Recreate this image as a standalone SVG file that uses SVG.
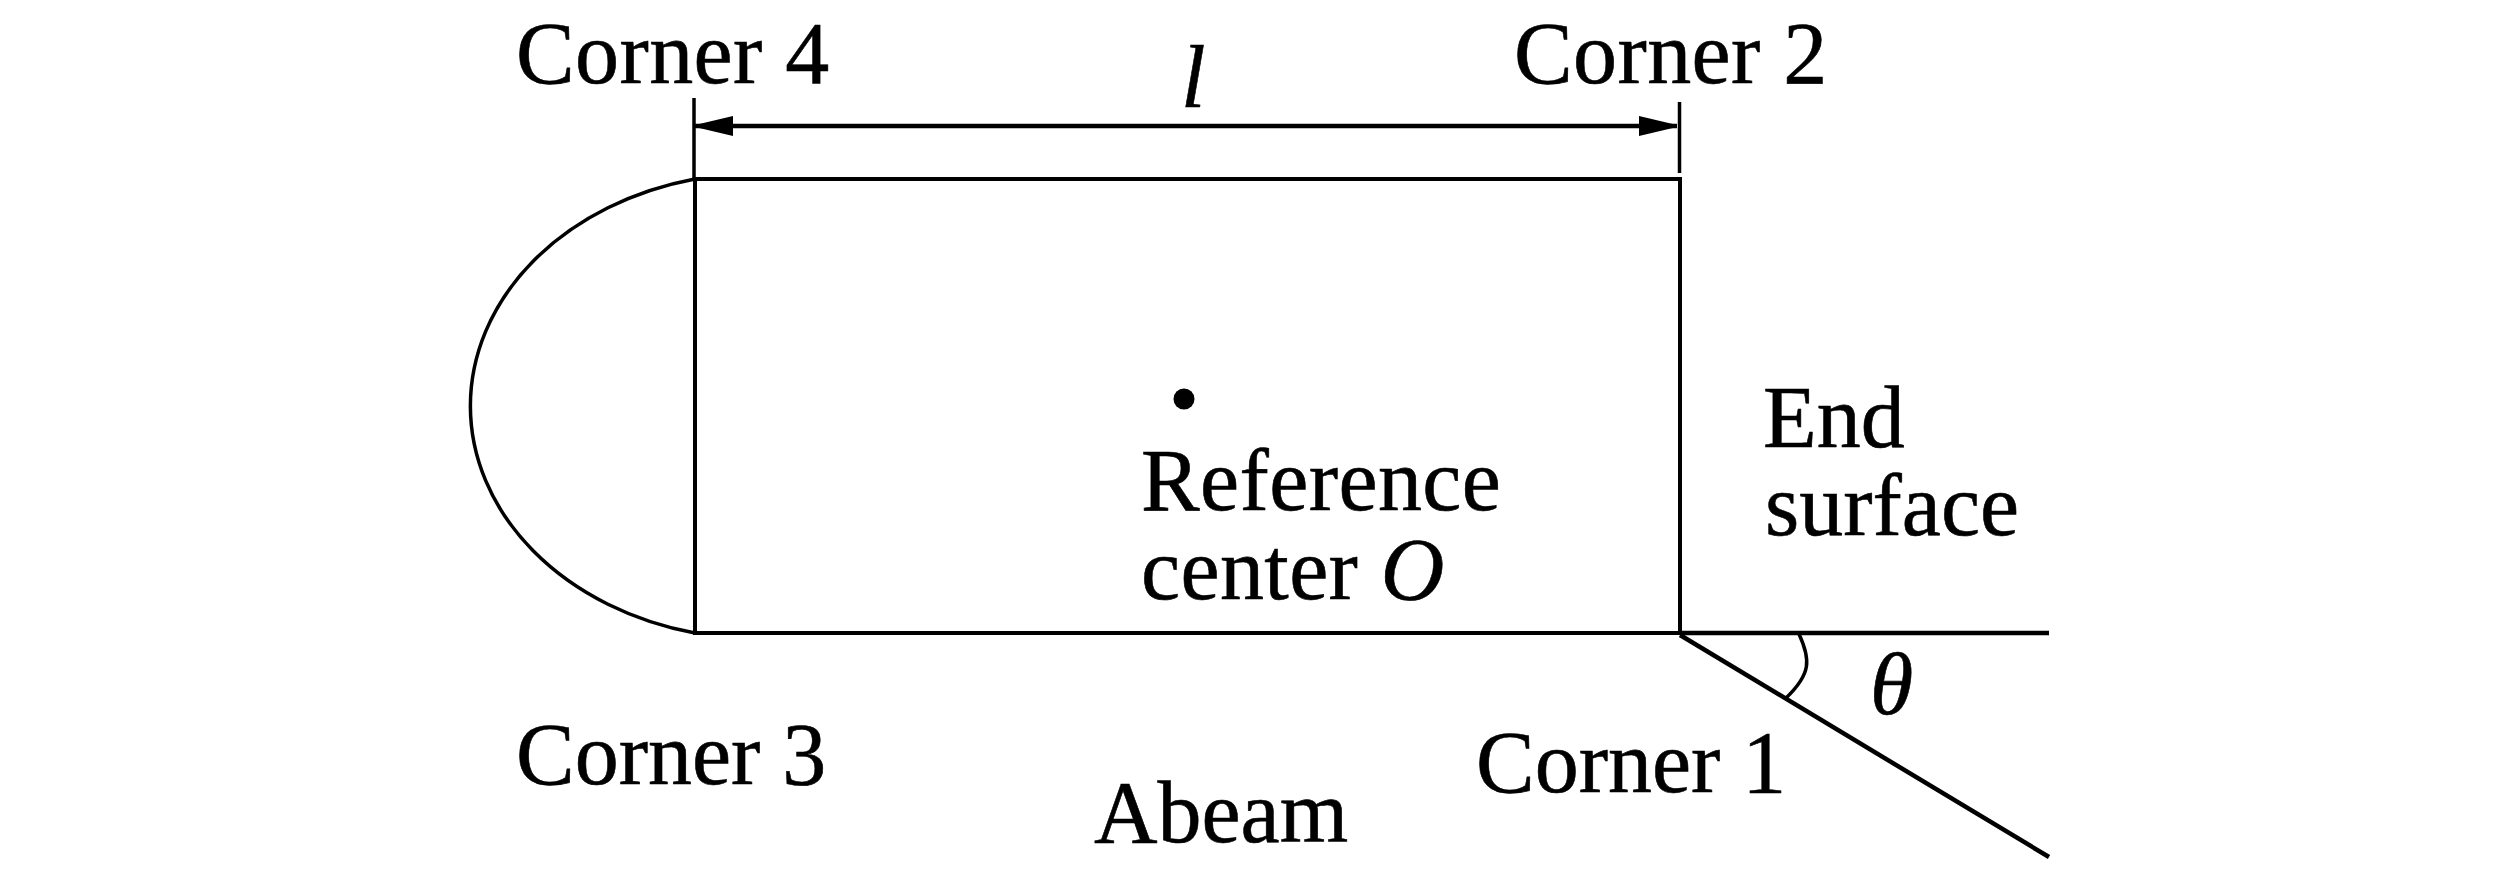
<svg xmlns="http://www.w3.org/2000/svg" width="2520" height="882" viewBox="0 0 2520 882">
<style>
text{font-family:"Liberation Serif","Times New Roman",serif;font-size:88px;fill:#000;stroke:#000;stroke-width:.6}
.i{font-style:italic}
.w{letter-spacing:.4px}
.l{fill:none;stroke:#000;stroke-width:4}
.t{fill:none;stroke:#000;stroke-width:3.500}
.h{fill:none;stroke:#000;stroke-width:4.500}
</style>
<defs>
<marker id="arrow" markerUnits="userSpaceOnUse" markerWidth="40" markerHeight="20" refX="38" refY="10" orient="auto-start-reverse"><path d="M0 0L38 9L38 11L0 20Z" fill="#000"/></marker>
</defs>
<rect width="2520" height="882" fill="#fff"/>
<g id="body">
<path class="l" d="M695 179H1680V633H695Z"/>
<path class="t" d="M695 179A290 233 0 0 0 695 633"/>
</g>
<g id="connectors">
<path class="t" d="M694 98V179"/>
<path class="t" d="M1679.500 102V173"/>
<path class="h" d="M695 126H1677" marker-start="url(#arrow)" marker-end="url(#arrow)"/>
<path class="h" d="M1680 633H2049"/>
<path class="h" d="M1680 635L2049 857"/>
<path class="t" d="M1799 634C1811 660 1811 674 1786 698"/>
</g>
<g id="center"><ellipse cx="1184" cy="399" rx="10.500" ry="10.500" fill="#000"/></g>
<g id="corner-4"><text class="w" x="516" y="83">Corner 4</text></g>
<g id="corner-2"><text class="w" x="1514" y="83">Corner 2</text></g>
<g id="corner-3"><text x="516" y="784">Corner 3</text></g>
<g id="corner-1"><text x="1476" y="792">Corner 1</text></g>
<g id="length"><text class="i" x="1181" y="107">l</text></g>
<g id="angle"><text class="i" x="1870" y="714">θ</text></g>
<g id="abeam"><text x="1094" y="842">Abeam</text></g>
<g id="reference-center"><text class="w" x="1141" y="510">Reference</text><text class="w" x="1141" y="599">center <tspan class="i">O</tspan></text></g>
<g id="end-surface"><text x="1763" y="447">End</text><text x="1765" y="535">surface</text></g>
</svg>
